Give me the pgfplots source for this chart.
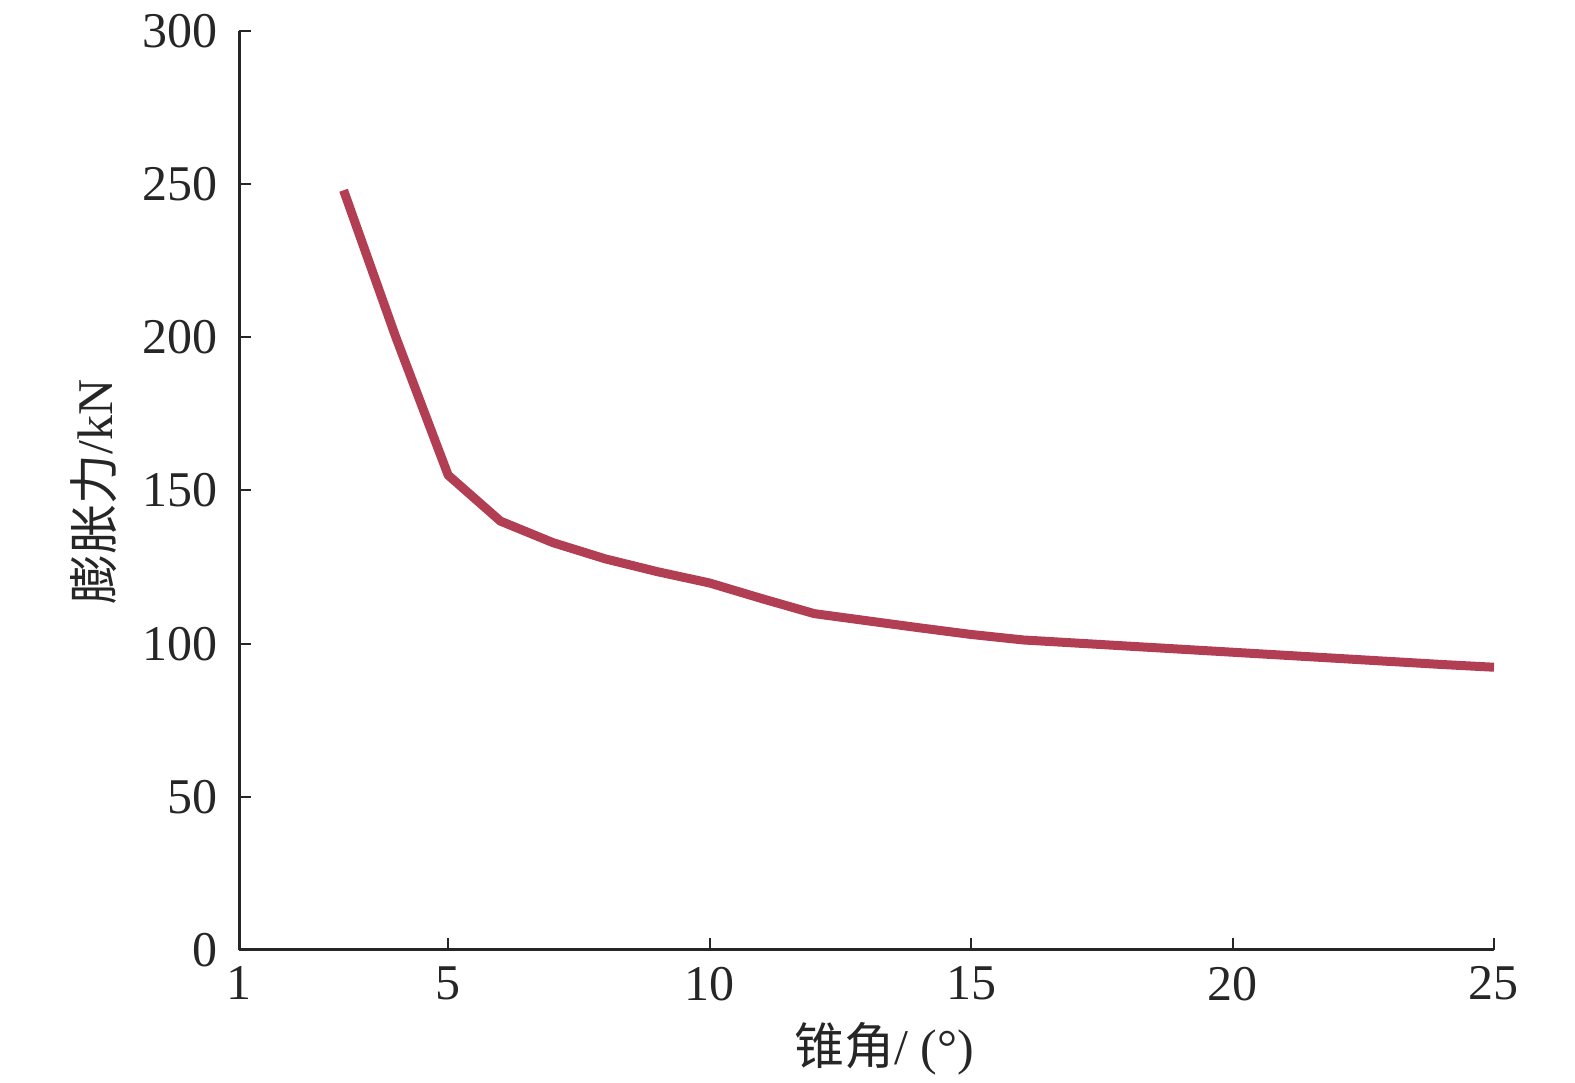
\documentclass[border=0pt]{standalone}
\usepackage{fontspec}
\setmainfont{Liberation Serif}
\newfontfamily\cjk{Noto Sans CJK SC}
\usepackage{pgfplots}
\pgfplotsset{compat=1.18}
\definecolor{linered}{RGB}{178,62,84}
\begin{document}
\begin{tikzpicture}
\begin{axis}[
  scale only axis,
  width=376.5pt, height=275.7pt,
  xmin=1, xmax=25, ymin=0, ymax=300,
  axis x line*=bottom, axis y line*=left,
  axis line style={line width=0.9pt, black!85},
  tick style={line width=0.6pt, black!85},
  tick align=inside,
  major tick length=3.6pt,
  xtick={1,5,10,15,20,25},
  ytick={0,50,100,150,200,250,300},
  /pgf/number format/assume math mode=true,
  ticklabel style={font=\fontsize{15pt}{18pt}\selectfont, text=black!85},
  xticklabel style={yshift=-1.5pt},
  yticklabel style={xshift=-3pt},
  clip=false,
  xlabel={{\cjk 锥角}/ (°)},
  ylabel={{\cjk 膨胀力}/kN},
  every axis x label/.style={at={(axis description cs:0.514,-0.108)}, anchor=center, font=\fontsize{15pt}{18pt}\selectfont, text=black!85},
  every axis y label/.style={at={(axis description cs:-0.116,0.498)}, rotate=90, anchor=center, font=\fontsize{15pt}{18pt}\selectfont, text=black!85},
]
\addplot[linered, line width=2.7pt, line join=round] coordinates {
(3,248) (4,200) (5,155) (6,140) (7,133) (8,127.7) (9,123.5) (10,119.8)
(11,114.7) (12,109.8) (13,107.5) (14,105.2) (15,103) (16,101.2) (17,100.2)
(18,99.2) (19,98.2) (20,97.2) (21,96.2) (22,95.2) (23,94.2) (24,93.2) (25,92.3)
};
\coordinate (bbbl) at (rel axis cs:-0.19044,-0.14472);
\coordinate (bbtr) at (rel axis cs:1.06454,1.03373);
\end{axis}
\pgfresetboundingbox
\path[use as bounding box] (bbbl) rectangle (bbtr);
\end{tikzpicture}
\end{document}
